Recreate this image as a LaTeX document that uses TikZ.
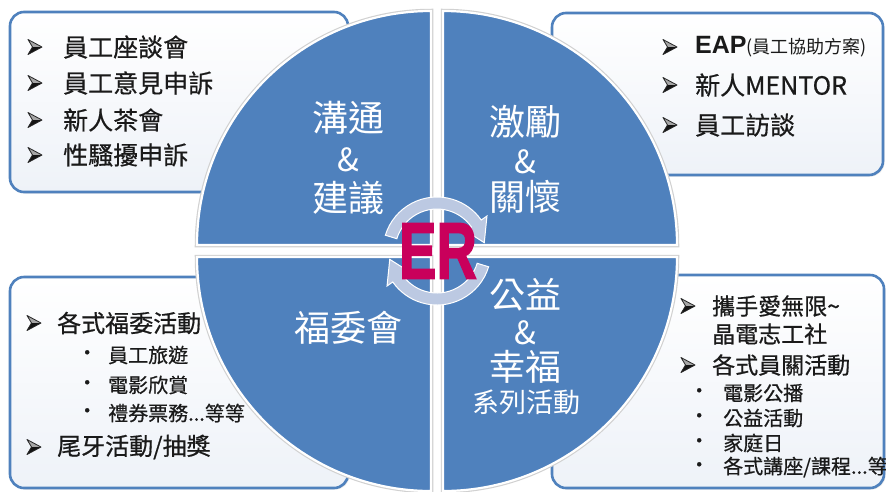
\documentclass[tikz,border=0pt]{standalone}
\usepackage{fontspec}
\newfontfamily\cjk{Noto Sans CJK TC}
\newfontfamily\cjkd[FakeBold=0.6]{Noto Sans CJK TC}
\newfontfamily\arial{Liberation Sans}
\newfontfamily\erfont[FakeBold=2.2]{Liberation Sans Bold}
\usetikzlibrary{shadows}
\definecolor{qblue}{HTML}{4F81BD}
\definecolor{boxblue}{HTML}{4F81BD}
\definecolor{boxbg}{HTML}{EEF2F8}
\definecolor{ringc}{HTML}{BCC9E2}
\definecolor{ercol}{HTML}{C9005B}
\definecolor{txt}{HTML}{1A1A1A}
\begin{document}
\begin{tikzpicture}[x=1pt,y=-1pt,
  box/.style={draw=boxblue, line width=2.6pt, rounded corners=14pt, top color=white, bottom color=boxbg,
     drop shadow={opacity=0.18, shadow xshift=1.5pt, shadow yshift=-1.5pt}},
  quad/.style={fill=qblue, draw=white, line width=2.2pt},
  quadrim/.style={draw=black!18, line width=4.5pt},
  ringarrow/.style={fill=ringc, draw=white, line width=1pt},
  item/.style={anchor=west, inner sep=0pt, text=txt, font=\cjkd\fontsize{25}{25}\selectfont},
  sub/.style={anchor=west, inner sep=0pt, text=txt, font=\cjkd\fontsize{20}{20}\selectfont},
  big/.style={inner sep=0pt, text=white, font=\cjk\fontsize{36}{36}\selectfont},
  abul/.pic={
    \fill[black!35] (-7,-7.5) -- (7,0) -- (-2.5,0) -- cycle;
    \fill[black!92] (-7,7.5) -- (7,0) -- (-2.5,0) -- cycle;
    \draw[black!85, line width=0.8pt, line join=round] (-7,-7.5) -- (7,0) -- (-7,7.5) -- (-2.5,0) -- cycle;
  }
]
\useasboundingbox (0,0) rectangle (886,491);
\fill[white] (0,0) rectangle (886,491);

% boxes
\path[box] (10,12) rectangle (348,192);
\path[box] (552,13) rectangle (883,175);
\path[box] (10,277) rectangle (348,488);
\path[box] (552,275) rectangle (884,488);

% quadrants
\foreach \p in {
  {(431,245) -- (197,245) arc[start angle=180,end angle=270,radius=234] -- cycle},
  {(443,245) -- (443,11) arc[start angle=270,end angle=360,radius=234] -- cycle},
  {(443,257) -- (677,257) arc[start angle=0,end angle=90,radius=234] -- cycle},
  {(431,257) -- (431,491) arc[start angle=90,end angle=180,radius=234] -- cycle}}
  {\draw[quadrim] \p;}
\path[quad] (431,245) -- (197,245) arc[start angle=180,end angle=270,radius=234] -- cycle;
\path[quad] (443,245) -- (443,11) arc[start angle=270,end angle=360,radius=234] -- cycle;
\path[quad] (443,257) -- (677,257) arc[start angle=0,end angle=90,radius=234] -- cycle;
\path[quad] (431,257) -- (431,491) arc[start angle=90,end angle=180,radius=234] -- cycle;

% ring arrows
\begin{scope}[shift={(437,251)}]
  \foreach \rr in {0,180}{
  \begin{scope}[rotate=\rr]
  \path[ringarrow] (197:54) arc[start angle=197,end angle=325,radius=54] -- (325:61) -- (350:48)
     -- (325:35) -- (325:42) arc[start angle=325,end angle=197,radius=42] -- cycle;
  \end{scope}}
\end{scope}

% ER
\node[inner sep=0pt, text=ercol, font=\erfont\fontsize{80}{80}\selectfont] (er) at (438,251) {\scalebox{0.7}[1]{ER}};

% circle texts
\node[big] (q1a) at (348,118) {溝通};
\node[big, font=\cjk\fontsize{32}{32}\selectfont] (q1b) at (348,160) {\&};
\node[big] (q1c) at (348,198) {建議};
\node[big] (q2a) at (525,122) {激勵};
\node[big, font=\cjk\fontsize{32}{32}\selectfont] (q2b) at (525,162) {\&};
\node[big] (q2c) at (525,197) {關懷};
\node[big] (q3) at (348,328) {福委會};
\node[big] (q4a) at (525,295) {公益};
\node[big, font=\cjk\fontsize{32}{32}\selectfont] (q4b) at (525,333) {\&};
\node[big] (q4c) at (525,367) {幸福};
\node[big, font=\cjk\fontsize{27}{27}\selectfont] (q4d) at (526,402) {系列活動};

% top-left list
\foreach \yy in {47,83,120,155} \pic at (35,\yy) {abul};
\node[item] (tl1) at (63,47) {員工座談會};
\node[item] (tl2) at (63,83) {員工意見申訴};
\node[item] (tl3) at (63,120) {新人茶會};
\node[item] (tl4) at (63,155) {性騷擾申訴};

% top-right list
\foreach \yy in {47,85,125} \pic at (670,\yy) {abul};
\node[item] (tr1) at (695,47) {\arial\bfseries EAP\cjk\mdseries\fontsize{18}{18}\selectfont(員工協助方案)};
\node[item] (tr2) at (695,85) {新人MENTOR};
\node[item] (tr3) at (695,125) {員工訪談};

% bottom-left list
\pic at (34,323) {abul};
\node[item, font=\cjkd\fontsize{24}{24}\selectfont] (bl1) at (57,323) {各式福委活動};
\node[sub] (bl2b) at (77,355) {•};
\node[sub] (bl2) at (108,355) {員工旅遊};
\node[sub] (bl3b) at (77,385) {•};
\node[sub] (bl3) at (108,385) {電影欣賞};
\node[sub] (bl4b) at (77,413) {•};
\node[sub] (bl4) at (108,413) {禮券票務...等等};
\pic at (34,447) {abul};
\node[item, font=\cjkd\fontsize{24}{24}\selectfont] (bl5) at (57,447) {尾牙活動/抽獎};

% bottom-right list
\pic at (688,306) {abul};
\node[item, font=\cjkd\fontsize{23}{23}\selectfont] (br1) at (712,306) {攜手愛無限\textasciitilde};
\node[item, font=\cjkd\fontsize{23}{23}\selectfont] (br2) at (712,334) {晶電志工社};
\pic at (688,365) {abul};
\node[item, font=\cjkd\fontsize{23}{23}\selectfont] (br3) at (712,365) {各式員關活動};
\node[sub] (br4b) at (689,393) {•};
\node[sub] (br4) at (723,393) {電影公播};
\node[sub] (br5b) at (689,418) {•};
\node[sub] (br5) at (723,418) {公益活動};
\node[sub] (br6b) at (689,443) {•};
\node[sub] (br6) at (723,443) {家庭日};
\node[sub] (br7b) at (689,467) {•};
\node[sub] (br7) at (723,467) {各式講座/課程...等};
\end{tikzpicture}
\end{document}
